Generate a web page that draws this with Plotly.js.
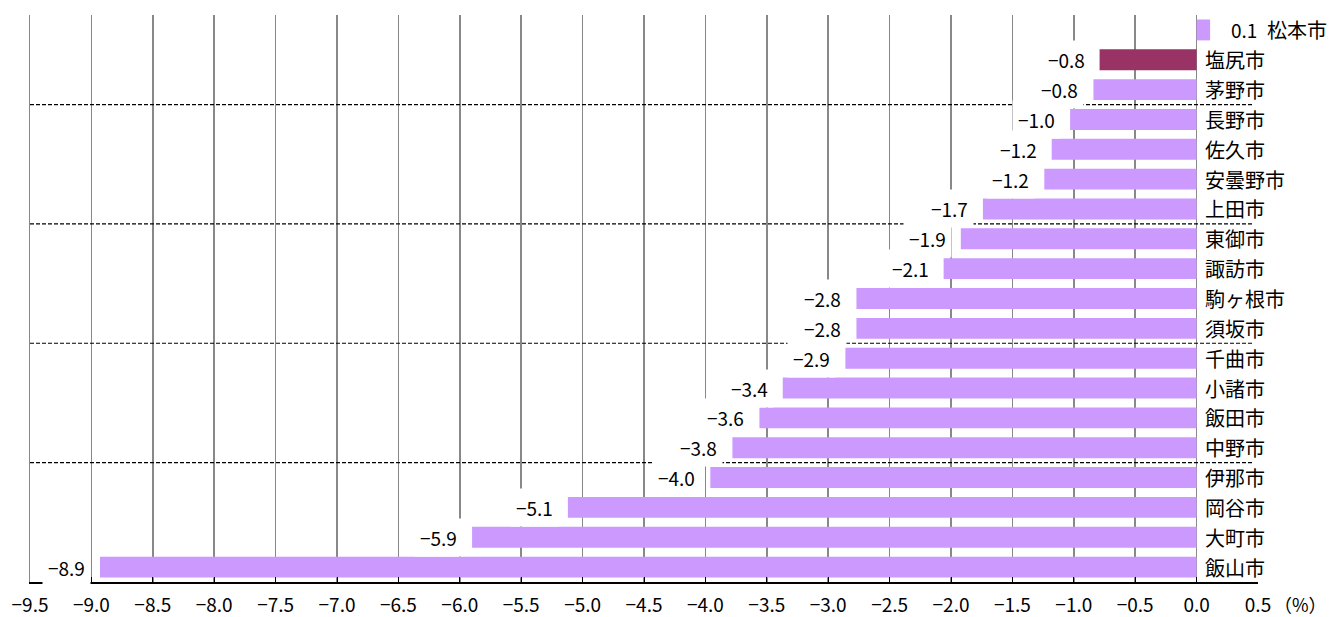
<!DOCTYPE html>
<html>
<head>
<meta charset="utf-8">
<script src="https://cdn.plot.ly/plotly-3.0.1.min.js"></script>
<style>html,body{margin:0;padding:0;background:#fff;}#chart{width:1329px;height:617px;}</style>
</head>
<body>
<div id="chart"></div>
<script>
// Data (top to bottom)
const cities = ["松本市","塩尻市","茅野市","長野市","佐久市","安曇野市","上田市","東御市","諏訪市","駒ヶ根市","須坂市","千曲市","小諸市","飯田市","中野市","伊那市","岡谷市","大町市","飯山市"];
const values = [0.11,-0.79,-0.84,-1.03,-1.18,-1.24,-1.74,-1.92,-2.06,-2.77,-2.77,-2.86,-3.37,-3.56,-3.78,-3.96,-5.12,-5.90,-8.93];
const highlight = "塩尻市";
const groupBreaks = [2.5, 6.5, 10.5, 14.5];
const xTicks = [-9.5,-9.0,-8.5,-8.0,-7.5,-7.0,-6.5,-6.0,-5.5,-5.0,-4.5,-4.0,-3.5,-3.0,-2.5,-2.0,-1.5,-1.0,-0.5,0.0,0.5];

const FONT = '"Noto Sans CJK JP", "Noto Sans", sans-serif';
const colors = cities.map(c => c === highlight ? '#993366' : '#CC99FF');

function fmt(v){
  const r = Math.round(Math.abs(v)*10)/10;
  return (v < 0 ? '\u2212' : '') + r.toFixed(1);
}

const trace = {
  type: 'bar',
  orientation: 'h',
  y: cities,
  x: values,
  marker: {color: colors, line: {width: 0}},
  hoverinfo: 'x+y'
};

const annotations = [];
cities.forEach((c, i) => {
  const v = values[i];
  annotations.push({
    x: v, y: c, xref: 'x', yref: 'y',
    text: fmt(v), showarrow: false,
    xanchor: v < 0 ? 'right' : 'left',
    xshift: v < 0 ? -9 : 15,
    yanchor: 'middle',
    bgcolor: '#ffffff', borderpad: 5,
    font: {family: FONT, size: 19, color: '#000'}
  });
  annotations.push({
    x: 0, y: c, xref: 'x', yref: 'y',
    text: c, showarrow: false,
    xanchor: 'left', xshift: v > 0 ? 68 : 6,
    yanchor: 'middle',
    font: {family: FONT, size: 20, color: '#000'}
  });
});
annotations.push({
  x: 1, y: 0, xref: 'paper', yref: 'paper',
  text: '（%）', showarrow: false,
  xanchor: 'left', yanchor: 'middle', xshift: 14, yshift: -22,
  font: {family: FONT, size: 18, color: '#000'}
});

const shapes = groupBreaks.map(b => ({
  type: 'line', xref: 'paper', x0: 0, x1: 0.996,
  yref: 'y', y0: b, y1: b,
  line: {color: '#000', width: 1.2, dash: '4px,2px'},
  layer: 'above'
}));

const layout = {
  width: 1329, height: 617,
  margin: {l: 30, r: 71, t: 15, b: 35},
  paper_bgcolor: '#fff', plot_bgcolor: '#fff',
  showlegend: false,
  bargap: 0.3,
  font: {family: FONT, size: 19, color: '#000'},
  xaxis: {
    range: [-9.5, 0.5], autorange: false,
    tickmode: 'array', tickvals: xTicks,
    tickformat: '.1f',
    ticks: 'inside', ticklen: 5, tickcolor: '#000', tickwidth: 1,
    ticklabelstandoff: 6,
    showgrid: true, gridcolor: '#888888', gridwidth: 1.5,
    zeroline: true, zerolinecolor: '#888888', zerolinewidth: 1.5,
    showline: true, linecolor: '#000', linewidth: 1.5,
    tickfont: {family: FONT, size: 19, color: '#000'},
    fixedrange: true
  },
  yaxis: {
    type: 'category', categoryorder: 'array', categoryarray: cities,
    range: [cities.length - 0.5, -0.5], autorange: false,
    showticklabels: false, ticks: '',
    showgrid: false, zeroline: false,
    showline: true, linecolor: '#888888', linewidth: 1.5,
    fixedrange: true
  },
  annotations: annotations,
  shapes: shapes
};

Plotly.newPlot('chart', [trace], layout, {displayModeBar: false, staticPlot: true});
</script>
</body>
</html>
